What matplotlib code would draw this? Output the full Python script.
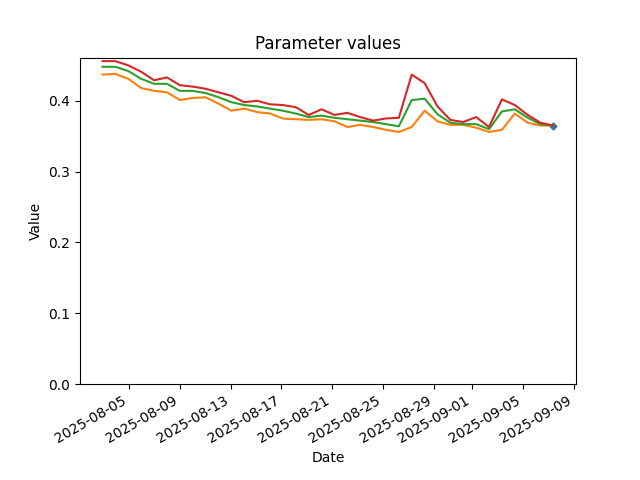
import matplotlib
matplotlib.use("Agg")
import matplotlib.pyplot as plt
import pandas as pd

# 36 samples, roughly one per day
dates = pd.date_range("2025-08-02 22:00", "2025-09-07 10:00", periods=36)

low = [0.437, 0.438, 0.431, 0.418, 0.414, 0.412, 0.401, 0.404, 0.405, 0.396,
       0.386, 0.389, 0.384, 0.382, 0.375, 0.374, 0.373, 0.374, 0.371, 0.363,
       0.366, 0.363, 0.359, 0.356, 0.363, 0.386, 0.371, 0.366, 0.366, 0.362,
       0.356, 0.359, 0.382, 0.369, 0.365, 0.365]
mid = [0.448, 0.448, 0.442, 0.431, 0.424, 0.424, 0.414, 0.414, 0.411, 0.405,
       0.398, 0.394, 0.392, 0.389, 0.386, 0.382, 0.377, 0.379, 0.376, 0.374,
       0.372, 0.370, 0.367, 0.364, 0.401, 0.403, 0.381, 0.369, 0.367, 0.367,
       0.360, 0.385, 0.388, 0.376, 0.367, 0.365]
high = [0.456, 0.456, 0.450, 0.441, 0.429, 0.433, 0.422, 0.420, 0.417, 0.412,
        0.407, 0.398, 0.400, 0.395, 0.394, 0.391, 0.380, 0.388, 0.380, 0.383,
        0.377, 0.372, 0.375, 0.376, 0.437, 0.425, 0.392, 0.373, 0.370, 0.377,
        0.363, 0.402, 0.394, 0.380, 0.369, 0.365]
# current value: only the last sample
current = [None] * 35 + [0.365]

fig, ax = plt.subplots(figsize=(6.4, 4.8), dpi=100)

ax.plot(dates, pd.Series(current, dtype=float), marker="D", markersize=3.5, color="C0")
ax.plot(dates, low, color="C1")
ax.plot(dates, mid, color="C2")
ax.plot(dates, high, color="C3")

ax.set_ylim(bottom=0)
ax.set_title("Parameter values")
ax.set_xlabel("Date")
ax.set_ylabel("Value")
fig.autofmt_xdate()

plt.savefig("out.png")
